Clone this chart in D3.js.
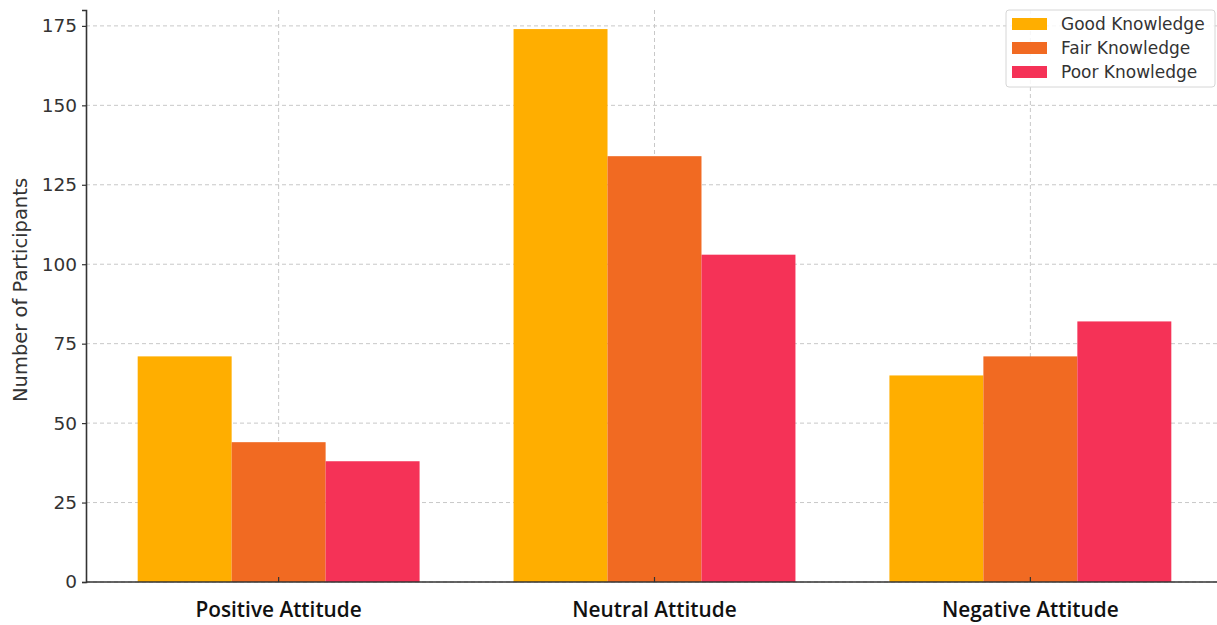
<!DOCTYPE html>
<html>
<head>
<meta charset="utf-8">
<script src="https://cdn.jsdelivr.net/npm/d3@7"></script>
<style>
  html, body { margin: 0; padding: 0; background: #fff; }
  svg { display: block; }
</style>
</head>
<body>
<svg id="chart" width="1217" height="625"></svg>
<script>
// Participants by attitude, grouped by knowledge level
const categories = ["Positive Attitude", "Neutral Attitude", "Negative Attitude"];
const seriesNames = ["Good Knowledge", "Fair Knowledge", "Poor Knowledge"];
const goodKnowledge = [71, 174, 65];
const fairKnowledge = [44, 134, 71];
const poorKnowledge = [38, 103, 82];
const yTicks = [0, 25, 50, 75, 100, 125, 150, 175];

const seriesValues = [goodKnowledge, fairKnowledge, poorKnowledge];
const colors = ["#FFAE00", "#F16A22", "#F53257"];

const svg = d3.select("#chart");
const plotLeft = 86, plotTop = 10, plotBottom = 582, plotRight = 1223;

const barWidth = 0.25;
const x = d3.scaleLinear().domain([-0.5125, 2.5125]).range([plotLeft, plotRight]);
const y = d3.scaleLinear().domain([0, 180]).range([plotBottom, plotTop]);

const g = svg.append("g");

// grid lines
g.append("g").selectAll("line").data(yTicks).join("line")
  .attr("x1", plotLeft).attr("x2", plotRight)
  .attr("y1", d => y(d)).attr("y2", d => y(d))
  .attr("stroke", "#c8c8c8").attr("stroke-width", 1).attr("stroke-dasharray", "4,3");
g.append("g").selectAll("line").data(categories).join("line")
  .attr("x1", (d, i) => x(i)).attr("x2", (d, i) => x(i))
  .attr("y1", plotTop).attr("y2", plotBottom)
  .attr("stroke", "#c8c8c8").attr("stroke-width", 1).attr("stroke-dasharray", "4,3");

// bars
seriesValues.forEach((vals, s) => {
  g.append("g").selectAll("rect").data(vals).join("rect")
    .attr("x", (d, i) => x(i + (s - 1) * barWidth - barWidth / 2))
    .attr("width", x(barWidth) - x(0))
    .attr("y", d => y(d))
    .attr("height", d => y(0) - y(d))
    .attr("fill", colors[s]);
});

// y axis
const yAxis = d3.axisLeft(y).tickValues(yTicks).tickSize(4).tickPadding(5);
const ya = g.append("g").attr("transform", `translate(${plotLeft},0)`).call(yAxis);
ya.select(".domain").attr("stroke", "#333").attr("stroke-width", 1.6);
ya.selectAll(".tick line").attr("stroke", "#333").attr("stroke-width", 1.2);
ya.selectAll(".tick text")
  .attr("font-family", "DejaVu Sans, sans-serif").attr("font-size", 18.5).attr("fill", "#333");

// x axis
const xa = g.append("g").attr("transform", `translate(0,${plotBottom})`);
xa.append("line").attr("x1", plotLeft).attr("x2", plotRight).attr("y1", 0).attr("y2", 0)
  .attr("stroke", "#333").attr("stroke-width", 1.6);
xa.selectAll("line.tk").data(categories).join("line").attr("class", "tk")
  .attr("x1", (d, i) => x(i)).attr("x2", (d, i) => x(i))
  .attr("y1", 0).attr("y2", -5).attr("stroke", "#333").attr("stroke-width", 1.2);
xa.selectAll("text").data(categories).join("text")
  .attr("x", (d, i) => x(i)).attr("y", 35)
  .attr("text-anchor", "middle")
  .attr("font-family", "Open Sans, sans-serif").attr("font-weight", 600)
  .attr("font-size", 20.8).attr("fill", "#111")
  .text(d => d);

// y label
svg.append("text")
  .attr("transform", `translate(27,290) rotate(-90)`)
  .attr("text-anchor", "middle")
  .attr("font-family", "DejaVu Sans, sans-serif").attr("font-size", 19.5).attr("fill", "#333")
  .text("Number of Participants");

// legend
const lg = svg.append("g").attr("transform", "translate(1006,10)");
lg.append("rect").attr("x", 0).attr("y", 0).attr("width", 209).attr("height", 77)
  .attr("rx", 3).attr("fill", "#fff").attr("fill-opacity", 0.85)
  .attr("stroke", "#d6d6d6").attr("stroke-width", 1);
seriesNames.forEach((name, i) => {
  lg.append("rect").attr("x", 6).attr("y", 8 + i * 24).attr("width", 35).attr("height", 12)
    .attr("fill", colors[i]);
  lg.append("text").attr("x", 55).attr("y", 20 + i * 24)
    .attr("font-family", "DejaVu Sans, sans-serif").attr("font-size", 17).attr("fill", "#333")
    .text(name);
});
</script>
</body>
</html>
